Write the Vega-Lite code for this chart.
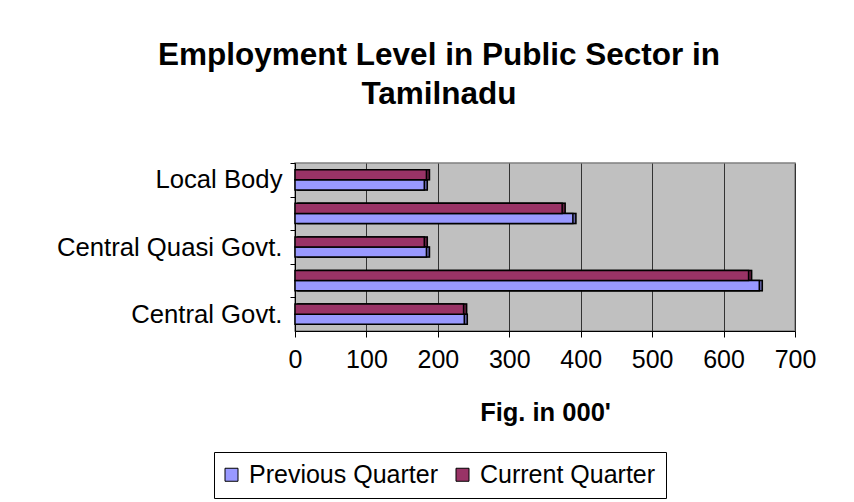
{
  "$schema": "https://vega.github.io/schema/vega-lite/v6.json",
  "autosize": {"type": "none"},
  "width": 500,
  "height": 168,
  "padding": {"left": 295, "top": 163, "right": 59, "bottom": 171},
  "background": "white",
  "title": {
    "text": ["Employment Level in Public Sector in", "Tamilnadu"],
    "font": "Liberation Sans",
    "fontSize": 31.5,
    "fontWeight": "bold",
    "color": "#000",
    "anchor": "middle",
    "dx": -106,
    "lineHeight": 39,
    "offset": 52
  },
  "config": {
    "view": {"fill": "#c0c0c0", "stroke": "#808080", "strokeWidth": 1.5}
  },
  "data": {
    "values": [
      {"sector": "Central Govt.", "series": "Previous Quarter", "value": 237},
      {"sector": "Central Govt.", "series": "Current Quarter", "value": 236},
      {"sector": "State Govt.", "series": "Previous Quarter", "value": 650},
      {"sector": "State Govt.", "series": "Current Quarter", "value": 635},
      {"sector": "Central Quasi Govt.", "series": "Previous Quarter", "value": 184},
      {"sector": "Central Quasi Govt.", "series": "Current Quarter", "value": 181},
      {"sector": "State Quasi Govt.", "series": "Previous Quarter", "value": 389},
      {"sector": "State Quasi Govt.", "series": "Current Quarter", "value": 374},
      {"sector": "Local Body", "series": "Previous Quarter", "value": 181},
      {"sector": "Local Body", "series": "Current Quarter", "value": 184}
    ]
  },
  "encoding": {
    "y": {
      "field": "sector",
      "type": "nominal",
      "sort": ["Local Body", "State Quasi Govt.", "Central Quasi Govt.", "State Govt.", "Central Govt."],
      "scale": {"paddingInner": 0.4, "paddingOuter": 0.2},
      "axis": {
        "title": null,
        "labelFont": "Liberation Sans",
        "labelFontSize": 25.7,
        "labelColor": "#000",
        "labelPadding": 8,
        "labelLimit": 400,
        "labelOverlap": false,
        "tickSize": 5,
        "tickColor": "#000",
        "domainColor": "#000",
        "tickOffset": -16.8,
        "labelOffset": 16.8,
        "grid": false,
        "labelExpr": "indexof(datum.label, 'State') >= 0 ? '' : datum.label"
      }
    },
    "x": {
      "field": "value",
      "type": "quantitative",
      "scale": {"domain": [0, 700], "nice": false},
      "axis": {
        "title": "Fig. in 000'",
        "titleFont": "Liberation Sans",
        "titleFontSize": 25.5,
        "titleFontWeight": "bold",
        "titleColor": "#000",
        "titlePadding": 28,
        "labelFont": "Liberation Sans",
        "labelFontSize": 25,
        "labelColor": "#000",
        "labelPadding": 10,
        "labelFlush": false,
        "tickSize": 6,
        "tickColor": "#000",
        "domainColor": "#000",
        "values": [0, 100, 200, 300, 400, 500, 600, 700],
        "grid": true,
        "gridColor": "#333",
        "gridOpacity": 1
      }
    },
    "yOffset": {"field": "series", "sort": ["Current Quarter", "Previous Quarter"]},
    "color": {
      "field": "series",
      "scale": {"domain": ["Previous Quarter", "Current Quarter"], "range": ["#9999ff", "#993366"]},
      "legend": {
        "orient": "none",
        "legendX": -81,
        "legendY": 289,
        "direction": "horizontal",
        "title": null,
        "strokeColor": "#000",
        "fillColor": "#fff",
        "padding": 10,
        "symbolType": "square",
        "symbolSize": 169,
        "symbolOffset": -5,
        "symbolStrokeColor": "#000",
        "symbolStrokeWidth": 1,
        "symbolOpacity": 1,
        "labelFont": "Liberation Sans",
        "labelFontSize": 25,
        "labelColor": "#000",
        "labelOffset": 5,
        "labelLimit": 400,
        "columnPadding": 16
      }
    }
  },
  "layer": [
    {
      "mark": {"type": "bar", "xOffset": 3, "stroke": "#000", "strokeWidth": 1.5, "opacity": 1}
    },
    {
      "mark": {"type": "bar", "xOffset": 3, "fill": "#000", "stroke": "#000", "strokeWidth": 1.5, "opacity": 0.35}
    },
    {
      "mark": {"type": "bar", "stroke": "#000", "strokeWidth": 1.5, "opacity": 1}
    }
  ]
}
